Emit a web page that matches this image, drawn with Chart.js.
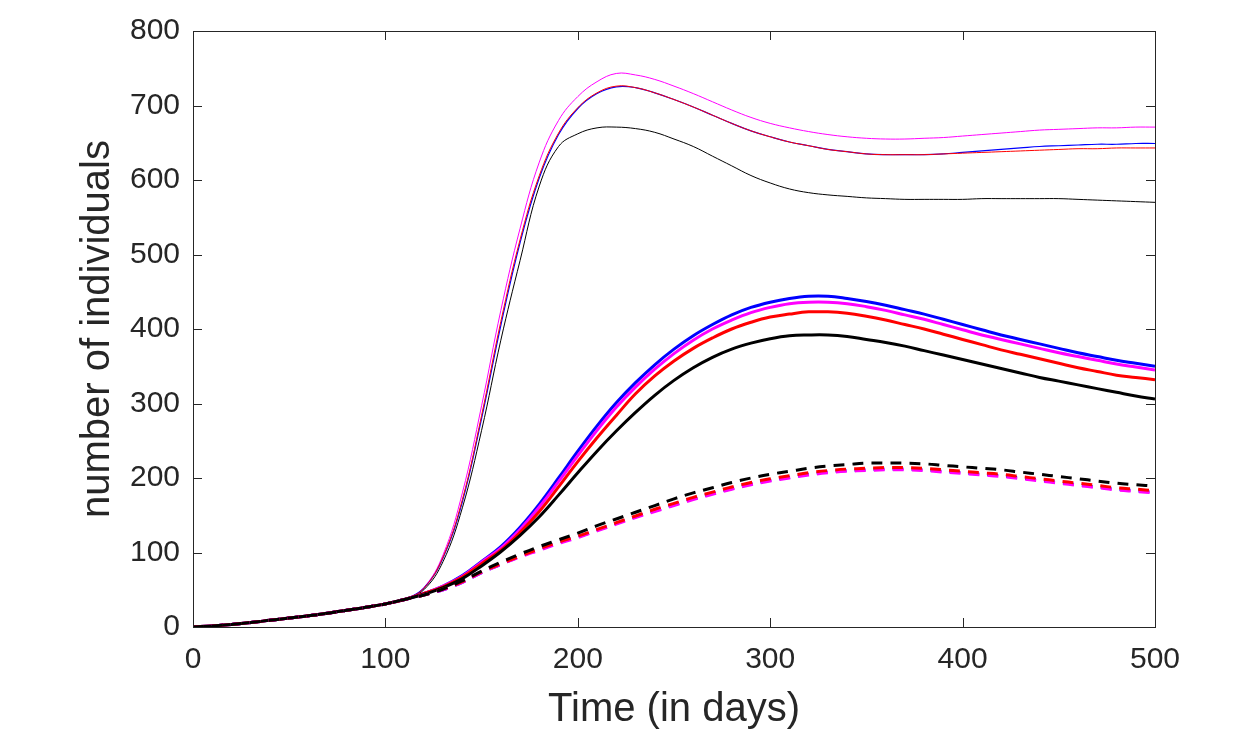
<!DOCTYPE html>
<html>
<head>
<meta charset="utf-8">
<title>number of individuals</title>
<script src="https://cdn.jsdelivr.net/npm/chart.js@4.4.1/dist/chart.umd.min.js"></script>
<style>
  html, body { margin: 0; padding: 0; background: #ffffff; }
  canvas { display: block; }
</style>
</head>
<body>
<canvas id="chart" width="1244" height="738"></canvas>
<script>
// days 0..500, every 10 days
const days = [];
for (let d = 0; d <= 500; d += 10) days.push(d);

const xTicks = [0, 100, 200, 300, 400, 500];
const yTicks = [0, 100, 200, 300, 400, 500, 600, 700, 800];

// early part, same for all curves (days 0..110)
const start = [0, 1.5, 3.5, 6, 9, 12, 15, 18.5, 22.5, 26.5, 31, 37];

// thin curves
const thinMagenta = start.concat([53, 97, 180, 297, 425, 535, 624, 680, 712, 732, 743, 741, 735, 726, 716, 705, 694, 684, 676, 670, 665, 661, 658, 656, 655, 655, 656, 657, 659, 661, 663, 665, 667, 668, 669, 670, 670, 671, 671]);
const thinBlue = start.concat([52, 93, 168, 280, 405, 516, 603, 661, 696, 716, 725, 724, 717, 708, 698, 687, 676, 666, 658, 651, 646, 641, 638, 635, 634, 634, 634, 635, 637, 639, 641, 643, 645, 646, 647, 648, 648, 649, 649]);
const thinRed = start.concat([52, 94, 171, 284, 410, 520, 606, 663, 697, 717, 726, 724, 717, 708, 698, 687, 676, 666, 658, 651, 646, 641, 638, 635, 634, 634, 634, 635, 636, 637, 638, 639, 640, 641, 642, 642, 643, 643, 643]);
const thinBlack = start.concat([50, 88, 160, 264, 385, 492, 592, 645, 662, 670, 671, 669, 664, 655, 645, 632, 619, 606, 596, 588, 583, 580, 578, 576, 575, 574, 574, 574, 574, 575, 575, 575, 575, 575, 574, 573, 572, 571, 570]);

// thick solid curves
const thickBlue = start.concat([45, 55, 69, 88, 108, 134, 165, 200, 236, 270, 301, 328, 352, 373, 391, 406, 419, 429, 436, 441, 444, 444, 441, 437, 432, 426, 420, 413, 406, 399, 392, 386, 380, 374, 368, 363, 358, 354, 350]);
const thickMagenta = start.concat([45, 55, 68, 87, 106, 131, 161, 195, 230, 264, 295, 322, 346, 367, 385, 400, 412, 422, 429, 434, 436, 436, 434, 430, 425, 419, 413, 406, 399, 392, 386, 380, 374, 368, 363, 358, 353, 349, 345]);
const thickRed = start.concat([45, 54, 67, 85, 103, 127, 155, 188, 222, 254, 284, 313, 337, 357, 374, 388, 400, 409, 416, 420, 423, 423, 421, 417, 412, 406, 400, 393, 386, 379, 372, 366, 360, 354, 348, 343, 338, 335, 332]);
const thickBlack = start.concat([44, 53, 65, 82, 101, 123, 148, 177, 207, 236, 263, 288, 311, 331, 348, 362, 373, 381, 387, 391, 392, 392, 390, 386, 382, 377, 371, 365, 359, 353, 347, 341, 335, 330, 325, 320, 315, 310, 306]);

// dashed curves
const dashBlack = start.concat([43, 51, 62, 75, 87, 98, 108, 117, 126, 136, 145, 154, 163, 172, 180, 187, 194, 200, 205, 209, 213, 216, 218, 220, 220, 220, 219, 217, 215, 213, 211, 208, 205, 202, 199, 196, 193, 191, 189]);
const dashRed = start.concat([43, 51, 61, 74, 85, 95, 105, 114, 122, 131, 140, 149, 158, 166, 174, 181, 188, 194, 199, 203, 207, 210, 212, 213, 214, 214, 213, 211, 209, 207, 205, 202, 199, 196, 193, 190, 187, 185, 183]);
const dashMagenta = start.concat([43, 50, 60, 73, 84, 94, 103, 112, 120, 129, 138, 147, 155, 163, 171, 178, 185, 191, 196, 200, 204, 207, 209, 210, 211, 211, 210, 208, 206, 204, 202, 199, 196, 193, 190, 187, 184, 182, 180]);
const dashBlue = start.concat([43, 50, 60, 73, 84, 95, 104, 113, 121, 130, 139, 148, 156, 164, 172, 179, 186, 192, 197, 201, 205, 208, 210, 211, 212, 212, 211, 209, 207, 205, 203, 200, 197, 194, 191, 188, 185, 183, 181]);

const ink = '#262626';
const font = '"Liberation Sans", Arial, Helvetica, sans-serif';

function serie(values, color, width, dash) {
  return {
    data: days.map((d, i) => ({ x: d, y: values[i] })),
    borderColor: color,
    borderWidth: width,
    borderDash: dash || [],
    pointRadius: 0,
    fill: false,
    tension: 0.4
  };
}

// box and inward ticks, like the original figure
const boxTicks = {
  id: 'boxTicks',
  afterDraw(chart) {
    const { ctx, chartArea: a, scales } = chart;
    const len = 9;
    ctx.save();
    ctx.strokeStyle = ink;
    ctx.lineWidth = 1;
    ctx.beginPath();
    for (const v of xTicks) {
      const px = Math.round(scales.x.getPixelForValue(v)) + 0.5;
      ctx.moveTo(px, a.bottom); ctx.lineTo(px, a.bottom - len);
      ctx.moveTo(px, a.top); ctx.lineTo(px, a.top + len);
    }
    for (const v of yTicks) {
      const py = Math.round(scales.y.getPixelForValue(v)) + 0.5;
      ctx.moveTo(a.left, py); ctx.lineTo(a.left + len, py);
      ctx.moveTo(a.right, py); ctx.lineTo(a.right - len, py);
    }
    ctx.stroke();
    ctx.strokeRect(Math.round(a.left) + 0.5, Math.round(a.top) + 0.5,
      Math.round(a.right - a.left), Math.round(a.bottom - a.top));
    ctx.restore();
  }
};

// first dataset is drawn on top
const datasets = [
  serie(dashBlack, '#000000', 3, [11, 8]),
  serie(dashRed, '#ff0000', 3, [11, 8]),
  serie(dashMagenta, '#ff00ff', 3, [11, 8]),
  serie(dashBlue, '#0000ff', 3, [11, 8]),
  serie(thickBlack, '#000000', 3),
  serie(thickRed, '#ff0000', 3),
  serie(thickMagenta, '#ff00ff', 3),
  serie(thickBlue, '#0000ff', 3),
  serie(thinBlack, '#000000', 1),
  serie(thinRed, '#ff0000', 1),
  serie(thinBlue, '#0000ff', 1.2),
  serie(thinMagenta, '#ff00ff', 1)
];

new Chart(document.getElementById('chart'), {
  type: 'line',
  data: { datasets },
  options: {
    responsive: false,
    animation: false,
    devicePixelRatio: 1,
    layout: { padding: { top: 27, right: 89, left: 0, bottom: 0 } },
    plugins: {
      legend: { display: false },
      tooltip: { enabled: false }
    },
    scales: {
      x: {
        type: 'linear',
        min: 0,
        max: 500,
        afterFit: (s) => { s.height = 111; },
        afterBuildTicks: (s) => { s.ticks = xTicks.map(v => ({ value: v })); },
        grid: { display: false, drawTicks: false },
        border: { display: false },
        ticks: { color: ink, font: { family: font, size: 30 }, padding: 15, maxRotation: 0 },
        title: {
          display: true,
          text: 'Time (in days)',
          color: ink,
          font: { family: font, size: 40 },
          padding: { top: 0, bottom: 4 }
        }
      },
      y: {
        type: 'linear',
        min: 0,
        max: 800,
        afterFit: (s) => { s.width = 193; },
        afterBuildTicks: (s) => { s.ticks = yTicks.map(v => ({ value: v })); },
        grid: { display: false, drawTicks: false },
        border: { display: false },
        ticks: { color: ink, font: { family: font, size: 30 }, padding: 13 },
        title: {
          display: true,
          text: 'number of individuals',
          color: ink,
          font: { family: font, size: 40 },
          padding: { top: 74, bottom: 0 }
        }
      }
    }
  },
  plugins: [boxTicks]
});
</script>
</body>
</html>
